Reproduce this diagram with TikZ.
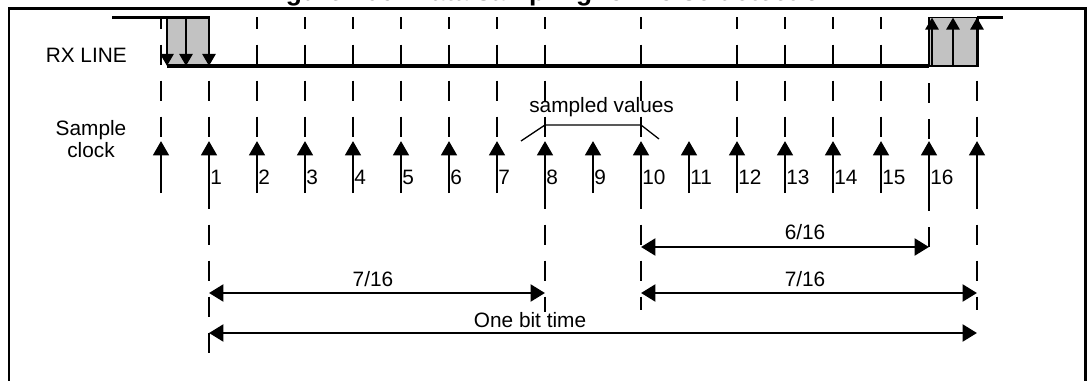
\documentclass[tikz,border=0pt]{standalone}
\usepackage{fontspec}
\setmainfont{Liberation Sans}
\usetikzlibrary{arrows.meta}

\begin{document}
\begin{tikzpicture}[
		x={(0.025cm,0)}, y={(0,-0.025cm)},
		frame/.style={line width=1.5pt},
		wave/.style={line width=2.2pt},
		noisebox/.style={fill=black!24},
		sampleline/.style={line width=1.9pt, dash pattern=on 0.5cm off 0.4cm, dash phase=0.225cm},
		clk/.style={line width=2.1pt, -{Triangle[length=0.36cm, width=0.39cm]}},
		edgearrow/.style={line width=2.1pt, -{Triangle[length=0.3cm, width=0.32cm]}},
		dimarrow/.style={line width=2pt, {Triangle[length=0.36cm, width=0.42cm]}-{Triangle[length=0.36cm, width=0.42cm]}},
		bracket/.style={line width=0.9pt},
		lbl/.style={font=\fontsize{14.8}{15.6}\selectfont, inner sep=0pt},
		num/.style={lbl, anchor=base west},
		ttl/.style={font=\fontsize{18.8}{20}\selectfont\bfseries, inner sep=0pt, anchor=base west}
		]
		\useasboundingbox (0,0) rectangle (1087,381);
		
		% Frame and title
		\draw[frame] (9.3,8.5) rectangle (1085.5,420);
		\node[ttl] (title) at (262,0.5) {Figure 206. Data sampling for noise detection};
		
		% Sample columns
		\foreach \k in {0,...,17}
		\coordinate (s\k) at ({161+48*\k},0);
		\coordinate (hi) at (0,17.5);
		\coordinate (lo) at (0,66);
		
		% RX line
		\fill[noisebox] (167,17.5) rectangle (210,66);
		\filldraw[noisebox, draw=black, line width=0.8pt] (929,17.5) rectangle (978,66);
		\draw[wave] (112,17.5) -- (210,17.5);
		\draw[wave] (167,66) -- (929,66);
		\draw[wave] (977,17.5) -- (1003,17.5);
		\foreach \x in {167,186,209}
		\draw[edgearrow] (\x,17.5) -- (\x,66);
		\foreach \x in {932,953,977}
		\draw[edgearrow] (\x,66) -- (\x,17.5);
		\node[lbl, anchor=base west] (rx) at (45.5,63) {RX LINE};
		
		% Dashed sampling lines
		\foreach \k/\yb in {0/193, 1/360, 2/193, 3/193, 4/193, 5/193, 6/193, 7/193, 8/312, 10/310, 12/193, 13/193, 14/193, 15/193, 17/310}
		\draw[sampleline] (s\k |- hi) -- (s\k |- 0,\yb);
		\draw[sampleline, dash phase=0pt] (s16 |- 0,47) -- (s16 |- 0,261);
		
		% Sample clock
		\node[lbl, align=center, anchor=base] (clock) at (91,157) {Sample\\clock};
		\foreach \k in {0,...,17}
		\draw[clk] (s\k |- 0,193) -- (s\k |- 0,141);
		\foreach \k in {1,...,16}
		\node[num] (n\k) at ([xshift=0.025cm]s\k |- 0,184) {\k};
		
		% Sampled values
		\node[lbl, anchor=base west] (sv) at (529,112) {sampled values};
		\draw[bracket] (521,141) -- (s8 |- 0,125) -- (s10 |- 0,125) -- (659,139);
		
		% Timing spans
		\coordinate (d6) at (0,247);
		\coordinate (d7) at (0,293);
		\coordinate (db) at (0,333);
		\draw[dimarrow] (s10 |- d6) -- (s16 |- d6);
		\node[lbl, anchor=base] (l6) at (805,239) {6/16};
		\draw[dimarrow] (s1 |- d7) -- (s8 |- d7);
		\node[lbl, anchor=base] (l7a) at (373,286) {7/16};
		\draw[dimarrow] (s10 |- d7) -- (s17 |- d7);
		\node[lbl, anchor=base] (l7b) at (805,286) {7/16};
		\draw[dimarrow] (s1 |- db) -- (s17 |- db);
		\node[lbl, anchor=base] (lbit) at (530,327) {One bit time};
		
	\end{tikzpicture}
\end{document}
